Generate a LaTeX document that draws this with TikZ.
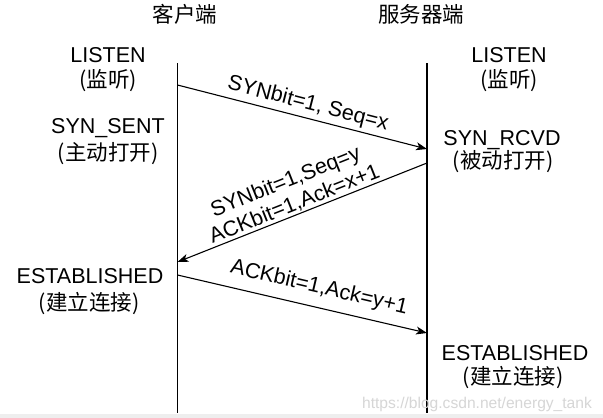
\documentclass[tikz,border=0pt]{standalone}
\usepackage{fontspec}
\setmainfont{Liberation Sans}
\newfontfamily\cjk{Noto Sans CJK SC}
\usetikzlibrary{arrows.meta}
\definecolor{wm}{RGB}{214,214,214}
\definecolor{strip}{RGB}{238,238,238}
\begin{document}
\begin{tikzpicture}[x=1pt,y=-1pt,
  lbl/.style={font=\fontsize{21.5}{25}\selectfont, inner sep=0pt, anchor=base},
  zh/.style={font=\fontsize{21.5}{25}\selectfont\cjk, inner sep=0pt, anchor=base},
  msg/.style={font=\fontsize{21.5}{24}\selectfont, inner sep=0pt, align=center},
  life/.style={line width=1.4pt},
  arr/.style={line width=1.1pt, -{Stealth[length=11pt,width=8pt,inset=3pt]}}]
\useasboundingbox (0,0) rectangle (603,418);
\fill[white] (0,0) rectangle (603,418);
\fill[strip] (0,413.5) rectangle (603,418);

% headers
\node[zh] (hc) at (185,22) {客户端};
\node[zh] (hs) at (421,22) {服务器端};

% lifelines
\coordinate (ct) at (177.5,63);
\coordinate (cb) at (177.5,413);
\coordinate (st) at (427,63);
\coordinate (sb) at (427,413);
\draw[life] (ct) -- (cb);
\draw[life] (st) -- (sb);

% client states
\node[lbl] (cl1) at (108,62) {LISTEN};
\node[zh]  (cl2) at (108,87) {(监听)};
\node[lbl] (cs1) at (108,133.5) {SYN\_SENT};
\node[zh]  (cs2) at (108,160) {(主动打开)};
\node[lbl] (ce1) at (90,283.5) {ESTABLISHED};
\node[zh]  (ce2) at (89,310) {(建立连接)};

% server states
\node[lbl] (sl1) at (509,62) {LISTEN};
\node[zh]  (sl2) at (509,87) {(监听)};
\node[lbl] (sr1) at (502,145) {SYN\_RCVD};
\node[zh]  (sr2) at (503,168) {(被动打开)};
\node[lbl] (se1) at (515,360) {ESTABLISHED};
\node[zh]  (se2) at (513,384) {(建立连接)};

% messages
\coordinate (a1s) at (177.5,85);
\coordinate (a1e) at (427,149);
\coordinate (a2s) at (427,163);
\coordinate (a2e) at (177.5,262);
\coordinate (a3s) at (177.5,275);
\coordinate (a3e) at (427,333);
\draw[arr] (a1s) -- (a1e);
\draw[arr] (a2s) -- (a2e);
\draw[arr] (a3s) -- (a3e);

\node[msg, rotate=-14.4] (m1) at (308,104) {SYNbit=1, Seq=x};
\node[msg, rotate=21.7] (m2) at (290,193) {SYNbit=1,Seq=y\\ACKbit=1,Ack=x+1};
\node[msg, rotate=-13.1] (m3) at (319,288) {ACKbit=1,Ack=y+1};

% watermark
\node[font=\fontsize{15.6}{18}\selectfont, text=wm, inner sep=0pt, anchor=base] (wmk) at (477,408) {https://blog.csdn.net/energy\_tank};
\end{tikzpicture}
\end{document}
